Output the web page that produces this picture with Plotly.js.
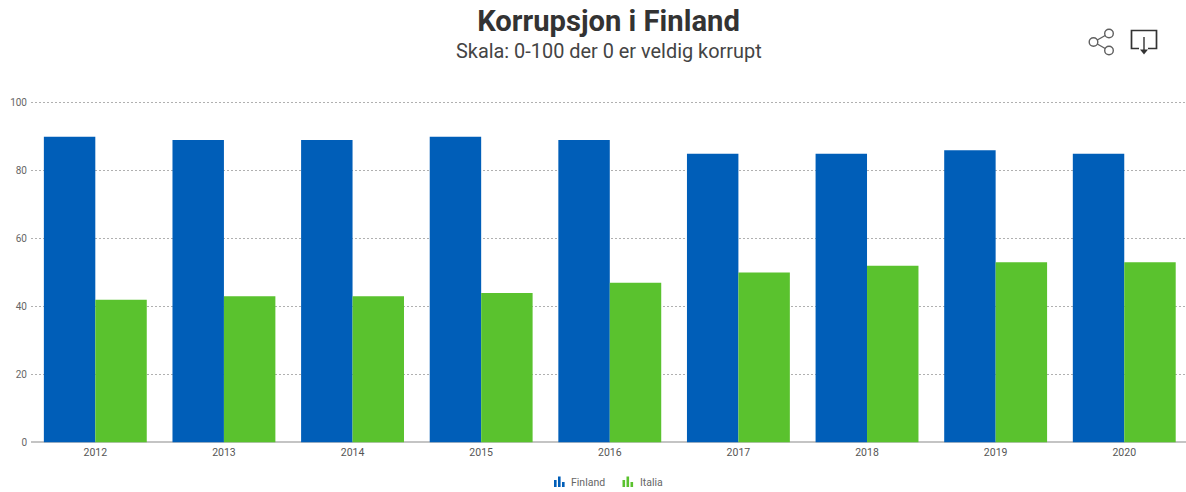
<!DOCTYPE html>
<html><head><meta charset="utf-8">
<script src="https://cdn.plot.ly/plotly-3.0.1.min.js"></script>
<style>html,body{margin:0;padding:0;background:#fff;overflow:hidden}#c{position:absolute;left:0;top:0;width:1186px;height:492px}
.legendpoints path{opacity:0!important}
#ic{position:absolute;left:0;top:0;pointer-events:none}</style>
</head><body><div id="c"></div>
<svg id="ic" width="1186" height="492">
 <g fill="none" stroke="#5f5f5f" stroke-width="1.4">
  <circle cx="1109" cy="33.5" r="4.3"/><circle cx="1109" cy="50.5" r="4.3"/><circle cx="1093.5" cy="42" r="4.3"/>
  <path d="M1097.3 40 L1105.2 35.5 M1097.3 44 L1105.2 48.5"/>
 </g>
 <path d="M1139 48.5 H1131.5 V30.5 H1156.5 V48.5 H1148" fill="none" stroke="#333" stroke-width="1.7"/>
 <path d="M1144 37 V51" stroke="#333" stroke-width="1.4"/><path d="M1140 49.5 H1148 L1144 54.5 Z" fill="#333"/>
 <g fill="#005eb8"><rect x="554" y="480" width="2.6" height="7"/><rect x="558" y="476.5" width="2.6" height="10.5"/><rect x="562" y="482" width="2.6" height="5"/></g>
 <g fill="#5ac22e"><rect x="622.5" y="480" width="2.6" height="7"/><rect x="626.5" y="476.5" width="2.6" height="10.5"/><rect x="630.5" y="482" width="2.6" height="5"/></g>
</svg>
<script>
var years = ["2012","2013","2014","2015","2016","2017","2018","2019","2020"];
var finland = [90,89,89,90,89,85,85,86,85];
var italia = [42,43,43,44,47,50,52,53,53];
var yTicks = [0,20,40,60,80,100];
var titleText = "Korrupsjon i Finland";
var subtitleText = "Skala: 0-100 der 0 er veldig korrupt";
var F = "Roboto, sans-serif";
function legendAt(px){return {orientation:"h",x:px/1186,xref:"container",xanchor:"left",y:10/492,yref:"container",yanchor:"middle",bgcolor:"rgba(0,0,0,0)",font:{family:F,size:10.5,color:"#666"}};}
Plotly.newPlot("c",[
 {type:"bar",name:"Finland",x:years,y:finland,marker:{color:"#005eb8"},hoverinfo:"x+y+name",legend:"legend"},
 {type:"bar",name:"Italia",x:years,y:italia,marker:{color:"#5ac22e"},hoverinfo:"x+y+name",legend:"legend2"}
],{
 width:1186,height:492,paper_bgcolor:"#fff",plot_bgcolor:"#fff",
 margin:{l:30.6,r:0,t:100.8,b:47.8,pad:0},
 barmode:"group",bargap:0.2,bargroupgap:0,
 font:{family:F,color:"#555"},
 title:{text:"<b>"+titleText+"</b>",font:{family:F,size:29.2,color:"#333"},x:0.5,xref:"paper",xanchor:"center",y:0.958,yanchor:"middle",yref:"container"},
 annotations:[{text:subtitleText,xref:"paper",yref:"paper",x:0.5,xanchor:"center",y:1,yshift:49.8,yanchor:"middle",showarrow:false,font:{family:F,size:19.9,color:"#444"}}],
 xaxis:{type:"category",range:[-0.5,8.48],showgrid:false,ticks:"",showline:false,tickfont:{family:F,size:10.5,color:"#555"},zeroline:false,automargin:false},
 yaxis:{range:[-0.5,100.5],tickvals:yTicks,showgrid:true,gridcolor:"#b0b0b0",griddash:"2px 2px",gridwidth:1,zeroline:true,zerolinecolor:"#c4c4c4",zerolinewidth:1.5,showline:false,ticks:"",tickfont:{family:F,size:10,color:"#666"},ticklabelstandoff:3,automargin:false},
 showlegend:true,
 legend:legendAt(531),
 legend2:legendAt(600)
},{displayModeBar:false});
</script></body></html>
